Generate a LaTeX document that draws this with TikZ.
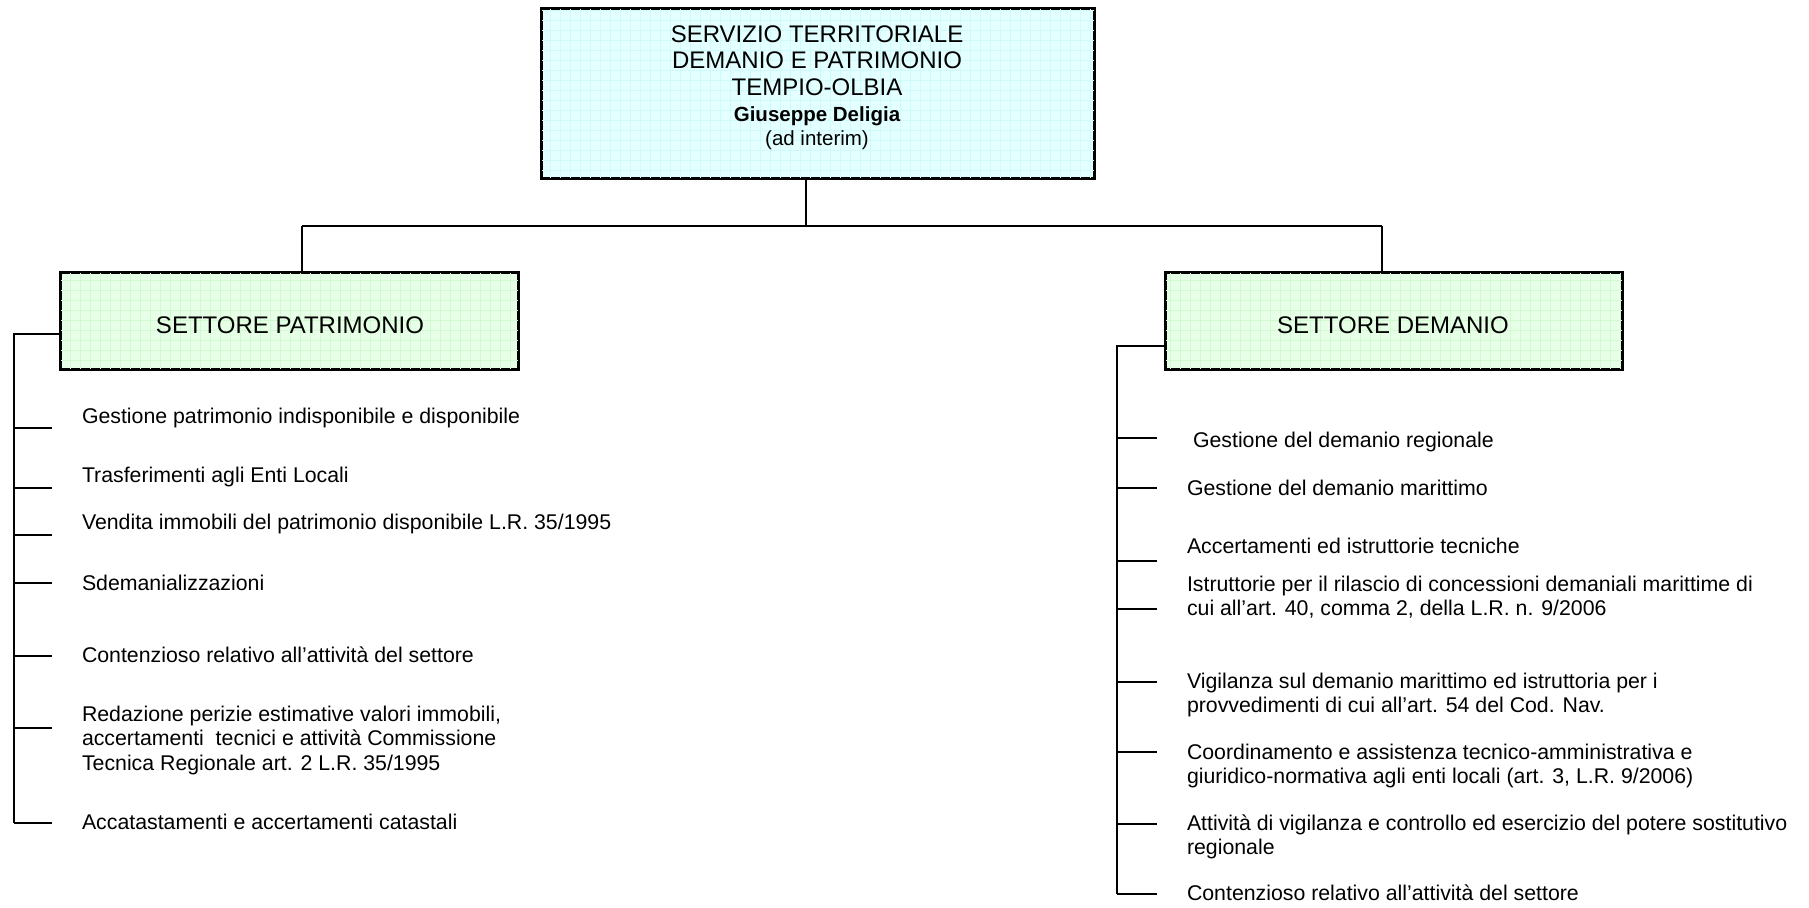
\documentclass[tikz,border=0pt]{standalone}
\usepackage{fontspec}
\setmainfont{Liberation Sans}
\definecolor{cyanbg}{RGB}{228,255,255}
\definecolor{cyangrid}{RGB}{206,250,250}
\definecolor{greenbg}{RGB}{230,255,230}
\definecolor{greengrid}{RGB}{208,250,208}
\begin{document}
\begin{tikzpicture}[x=0.5pt,y=-0.5pt,line width=1pt,
  box/.style={draw=black,line width=1.1pt,inner sep=0pt},
  gridline/.style={line width=0.3pt,step=5pt},
  conn/.style={draw=black,line width=1pt},
  item/.style={anchor=base west,inner sep=0pt,font=\fontsize{10.65}{12.25}\selectfont},
  head/.style={anchor=base,inner sep=0pt,font=\fontsize{12}{13}\selectfont},
  headsmall/.style={anchor=base,inner sep=0pt,font=\fontsize{10.25}{12}\selectfont}]
\useasboundingbox (0,0) rectangle (1809,907);

% boxes
\node[box,fill=cyanbg,minimum width=276pt,minimum height=84.5pt] (top) at (818,93.5) {};
\draw[gridline,cyangrid] ([xshift=0.7pt,yshift=0.7pt]top.south west) grid ([xshift=-0.7pt,yshift=-0.7pt]top.north east);
\node[box,fill=greenbg,minimum width=228.5pt,minimum height=48pt] (pat) at (289.5,321) {};
\draw[gridline,greengrid] ([xshift=0.7pt,yshift=0.7pt]pat.south west) grid ([xshift=-0.7pt,yshift=-0.7pt]pat.north east);
\node[box,fill=greenbg,minimum width=228pt,minimum height=48pt] (dem) at (1394,321) {};
\draw[gridline,greengrid] ([xshift=0.7pt,yshift=0.7pt]dem.south west) grid ([xshift=-0.7pt,yshift=-0.7pt]dem.north east);
\draw[box] (top.south west) rectangle (top.north east);
\draw[box] (pat.south west) rectangle (pat.north east);
\draw[box] (dem.south west) rectangle (dem.north east);

% top texts
\node[head] (t1) at (817,42.5) {SERVIZIO TERRITORIALE};
\node[head] (t2) at (817,68) {DEMANIO E PATRIMONIO};
\node[head] (t3) at (817,95) {TEMPIO-OLBIA};
\node[headsmall] (t4) at (817,121) {\bfseries Giuseppe Deligia};
\node[headsmall] (t5) at (817,145) {(ad interim)};

\node[head] (patlbl) at (290,333) {SETTORE PATRIMONIO};
\node[head] (demlbl) at (1393,333) {SETTORE DEMANIO};

% tree connectors
\coordinate (hub) at (806,226);
\coordinate (hubL) at (302,226);
\coordinate (hubR) at (1382,226);
\draw[conn] (hub |- top.south) -- (hub);
\draw[conn] (hubL) -- (hubR);
\draw[conn] (hubL) -- (hubL |- pat.north);
\draw[conn] (hubR) -- (hubR |- dem.north);

% left bracket
\coordinate (lb) at (14,334);
\coordinate (lbEnd) at (14,823);
\draw[conn] (pat.west |- lb) -- (lb) -- (lbEnd);
\foreach \y [count=\i] in {428,488,535,583,656,728,823}{
  \coordinate (pt\i) at (52,\y);
  \draw[conn] (lb |- pt\i) -- (pt\i);
}
\node[item] (p1) at (81,423) {Gestione patrimonio indisponibile e disponibile};
\node[item] (p2) at (81,482) {Trasferimenti agli Enti Locali};
\node[item] (p3) at (81,529) {Vendita immobili del patrimonio disponibile L.R. 35/1995};
\node[item] (p4) at (81,590) {Sdemanializzazioni};
\node[item] (p5) at (81,662) {Contenzioso relativo all’attività del settore};
\node[item] (p6a) at (81,721) {Redazione perizie estimative valori immobili,};
\node[item] (p6b) at (81,745.5) {accertamenti\ \ tecnici e attività Commissione};
\node[item] (p6c) at (81,770) {Tecnica Regionale art. 2 L.R. 35/1995};
\node[item] (p7) at (81,829) {Accatastamenti e accertamenti catastali};

% right bracket
\coordinate (rb) at (1117,346);
\coordinate (rbEnd) at (1117,894);
\draw[conn] (dem.west |- rb) -- (rb) -- (rbEnd);
\foreach \y [count=\i] in {438,488,561,609,682,752,824,894}{
  \coordinate (dt\i) at (1157,\y);
  \draw[conn] (rb |- dt\i) -- (dt\i);
}
\node[item] (d1) at (1192,447) {Gestione del demanio regionale};
\node[item] (d2) at (1186,495) {Gestione del demanio marittimo};
\node[item] (d3) at (1186,553) {Accertamenti ed istruttorie tecniche};
\node[item] (d4a) at (1186,591) {Istruttorie per il rilascio di concessioni demaniali marittime di};
\node[item] (d4b) at (1186,615.5) {cui all’art. 40, comma 2, della L.R. n. 9/2006};
\node[item] (d5a) at (1186,688) {Vigilanza sul demanio marittimo ed istruttoria per i};
\node[item] (d5b) at (1186,712.5) {provvedimenti di cui all’art. 54 del Cod. Nav.};
\node[item] (d6a) at (1186,759) {Coordinamento e assistenza tecnico-amministrativa e};
\node[item] (d6b) at (1186,783.5) {giuridico-normativa agli enti locali (art. 3, L.R. 9/2006)};
\node[item] (d7a) at (1186,830) {Attività di vigilanza e controllo ed esercizio del potere sostitutivo};
\node[item] (d7b) at (1186,854.5) {regionale};
\node[item] (d8) at (1186,900) {Contenzioso relativo all’attività del settore};
\end{tikzpicture}
\end{document}
